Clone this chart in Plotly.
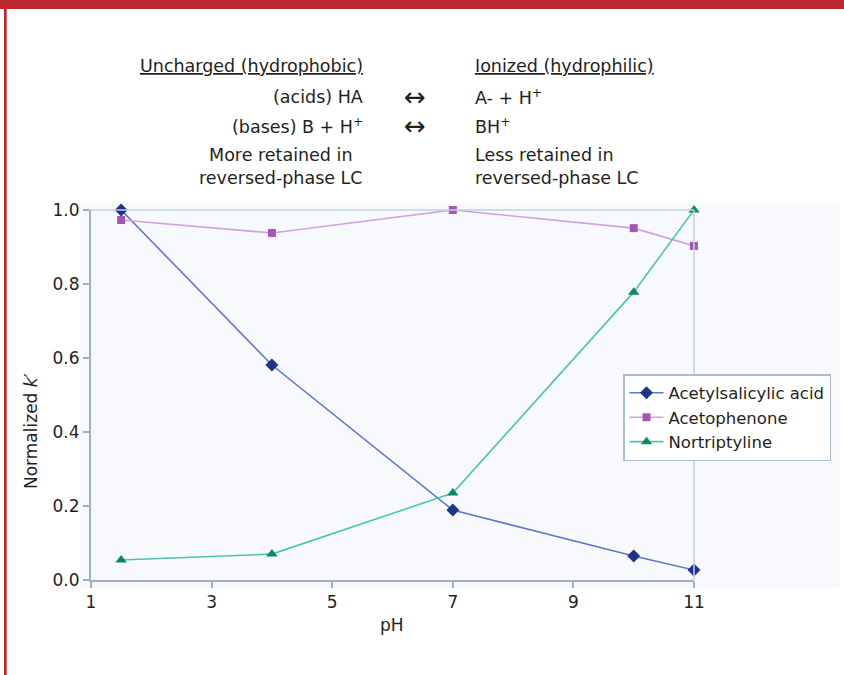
import plotly.graph_objects as go

# pH values at which retention was measured
ph = [1.5, 4, 7, 10, 11]

# Normalized retention factor k' for each compound
acetylsalicylic = [1.0, 0.581, 0.189, 0.065, 0.027]
acetophenone = [0.973, 0.938, 1.0, 0.951, 0.903]
nortriptyline = [0.054, 0.070, 0.235, 0.778, 1.0]

series_names = ["Acetylsalicylic acid", "Acetophenone", "Nortriptyline"]
x_ticks = [1, 3, 5, 7, 9, 11]
y_ticks = [0.0, 0.2, 0.4, 0.6, 0.8, 1.0]
y_tick_labels = ["0.0", "0.2", "0.4", "0.6", "0.8", "1.0"]

W, H = 844, 675
L, R, T, B = 91, 694, 210, 580  # plot box edges in pixels

FONT = "DejaVu Sans"
INK = "#231f20"
AXIS = "#9db2c1"
BORDER = "#c3d2dc"
RED = "#bc2832"


def px(x):
    return (x - L) / (R - L)


def py(y):
    return (B - y) / (B - T)


fig = go.Figure()

styles = [
    dict(line=dict(color="#5a7cc4", width=1.6),
         marker=dict(symbol="diamond", size=10, color="#1f3486")),
    dict(line=dict(color="#cfa2dd", width=1.6),
         marker=dict(symbol="square", size=8, color="#a656b6")),
    dict(line=dict(color="#4fc3b1", width=1.6),
         marker=dict(symbol="triangle-up", size=10, color="#0f8a5c")),
]

for name, vals, st in zip(series_names, [acetylsalicylic, acetophenone, nortriptyline], styles):
    fig.add_trace(go.Scatter(x=ph, y=vals, name=name, mode="lines+markers",
                             line=st["line"], marker=st["marker"], cliponaxis=False))

shapes = [
    # light chart-area background
    dict(type="rect", xref="paper", yref="paper", layer="below",
         x0=px(80), x1=px(840), y0=py(588), y1=py(203),
         fillcolor="#f8f9fc", line=dict(width=0)),
    # red header bar and left rule
    dict(type="rect", xref="paper", yref="paper",
         x0=px(0), x1=px(W), y0=py(9), y1=py(0),
         fillcolor=RED, line=dict(width=0)),
    dict(type="rect", xref="paper", yref="paper",
         x0=px(4), x1=px(6.7), y0=py(H), y1=py(9),
         fillcolor=RED, line=dict(width=0)),
    # top and right frame of the plot box
    dict(type="line", xref="paper", yref="paper", x0=0, x1=1, y0=1, y1=1,
         line=dict(color=BORDER, width=1.5)),
    dict(type="line", xref="paper", yref="paper", x0=1, x1=1, y0=0, y1=1,
         line=dict(color=BORDER, width=1.5)),
]

ann_font = dict(family=FONT, size=17.5, color=INK)
arrow_font = dict(family=FONT, size=26, color=INK)
annotations = [
    dict(text="<u>Uncharged (hydrophobic)</u>", x=px(365), y=py(66), xanchor="right"),
    dict(text="(acids) HA", x=px(365), y=py(97), xanchor="right"),
    dict(text="(bases) B + H<sup>+</sup>", x=px(365), y=py(126), xanchor="right"),
    dict(text="More retained in<br>reversed-phase LC", x=px(365), y=py(166),
         xanchor="right", align="center"),
    dict(text="↔", x=px(415), y=py(97), xanchor="center", font=arrow_font),
    dict(text="↔", x=px(415), y=py(126), xanchor="center", font=arrow_font),
    dict(text="<u>Ionized (hydrophilic)</u>", x=px(473), y=py(66), xanchor="left"),
    dict(text="A- + H<sup>+</sup>", x=px(473), y=py(97), xanchor="left"),
    dict(text="BH<sup>+</sup>", x=px(473), y=py(126), xanchor="left"),
    dict(text="Less retained in<br>reversed-phase LC", x=px(473), y=py(166),
         xanchor="left", align="left"),
    dict(text="Normalized <i>k′</i>", x=px(31), y=py(431), textangle=-90,
         xanchor="center", font=dict(family=FONT, size=17, color=INK)),
    dict(text="pH", x=px(392), y=py(625), xanchor="center",
         font=dict(family=FONT, size=17, color=INK)),
]
for a in annotations:
    a.setdefault("yanchor", "middle")
    a.setdefault("font", ann_font)
    a.update(xref="paper", yref="paper", showarrow=False)

fig.update_layout(
    width=W, height=H,
    margin=dict(l=L, r=W - R, t=T, b=H - B, pad=0),
    paper_bgcolor="white", plot_bgcolor="rgba(0,0,0,0)",
    font=dict(family=FONT, size=17, color=INK),
    showlegend=True,
    legend=dict(x=px(623), y=py(374), xanchor="left", yanchor="top",
                bgcolor="white", bordercolor="#a9bfcd", borderwidth=1.5,
                font=dict(family=FONT, size=16.5, color=INK),
                tracegroupgap=0, itemwidth=34),
    shapes=shapes, annotations=annotations,
)

fig.update_xaxes(range=[1, 11], tickvals=x_ticks, ticks="outside", ticklen=6,
                 tickcolor=AXIS, tickwidth=1.5, showline=True, linecolor=AXIS,
                 linewidth=2, showgrid=False, zeroline=False,
                 tickfont=dict(family=FONT, size=17, color=INK))
fig.update_yaxes(range=[0, 1], tickvals=y_ticks, ticktext=y_tick_labels,
                 ticks="outside", ticklen=6, tickcolor=AXIS, tickwidth=1.5,
                 showline=True, linecolor=AXIS, linewidth=2, showgrid=False,
                 zeroline=False, tickfont=dict(family=FONT, size=17, color=INK))

fig.write_html("out.html")
